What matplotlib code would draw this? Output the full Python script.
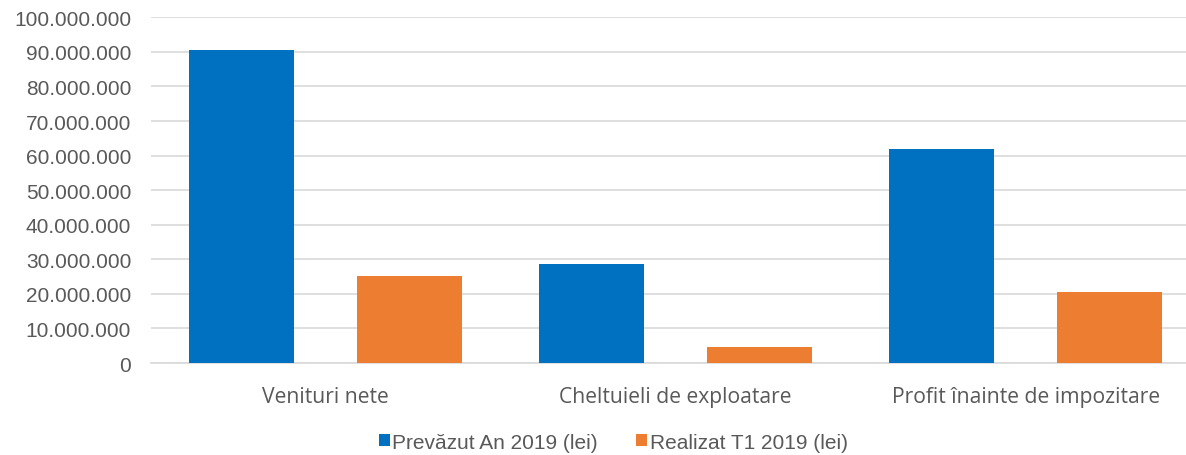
import matplotlib
matplotlib.use("Agg")
import matplotlib.pyplot as plt
from matplotlib.ticker import FuncFormatter
import numpy as np

categories = ["Venituri nete", "Cheltuieli de exploatare", "Profit înainte de impozitare"]
prevazut = [90650000, 28500000, 61900000]
realizat = [25300000, 4600000, 20600000]
series_names = ["Prevăzut An 2019 (lei)", "Realizat T1 2019 (lei)"]
yticks = list(range(0, 100000001, 10000000))

blue = "#0070C0"
orange = "#ED7D31"
gray_text = "#595959"

fig = plt.figure(figsize=(11.86, 4.56), dpi=100)
left_px, right_px, bottom_px, top_px = 150.6, 1200.6, 364.0, 18.3
ax = fig.add_axes([left_px / 1186, 1 - bottom_px / 456,
                   (right_px - left_px) / 1186, (bottom_px - top_px) / 456])

x = np.arange(len(categories))
w = 0.30
off = 0.241
ax.bar(x - off, prevazut, width=w, color=blue, label=series_names[0], zorder=3)
ax.bar(x + off, realizat, width=w, color=orange, label=series_names[1], zorder=3)

ax.set_xlim(-0.5, len(categories) - 0.5)
ax.set_ylim(0, 100000000)
ax.set_yticks(yticks)
ax.yaxis.set_major_formatter(FuncFormatter(lambda v, p: f"{int(v):,}".replace(",", ".")))
ax.grid(axis="y", color="#D9D9D9", linewidth=1.2, zorder=0)
for s in ["top", "right", "left"]:
    ax.spines[s].set_visible(False)
ax.spines["bottom"].set_color("#D9D9D9")
ax.spines["bottom"].set_linewidth(1.2)
ax.tick_params(axis="both", length=0)
ax.tick_params(axis="y", pad=14, labelsize=15, labelcolor=gray_text)
for t in ax.get_yticklabels():
    t.set_fontfamily("Liberation Sans")
ax.set_xticks(x)
ax.set_xticklabels(categories, fontsize=15.2, color=gray_text, family="Open Sans")
ax.tick_params(axis="x", pad=16.5)

leg = fig.legend(loc="center", bbox_to_anchor=(0.517, 0.028), ncol=2, frameon=False,
                 prop={"family": "Liberation Sans", "size": 15},
                 handlelength=0.53, handleheight=0.53, handletextpad=0.12, columnspacing=1.85)
for t in leg.get_texts():
    t.set_color(gray_text)

fig.savefig("out.png", dpi=100)
